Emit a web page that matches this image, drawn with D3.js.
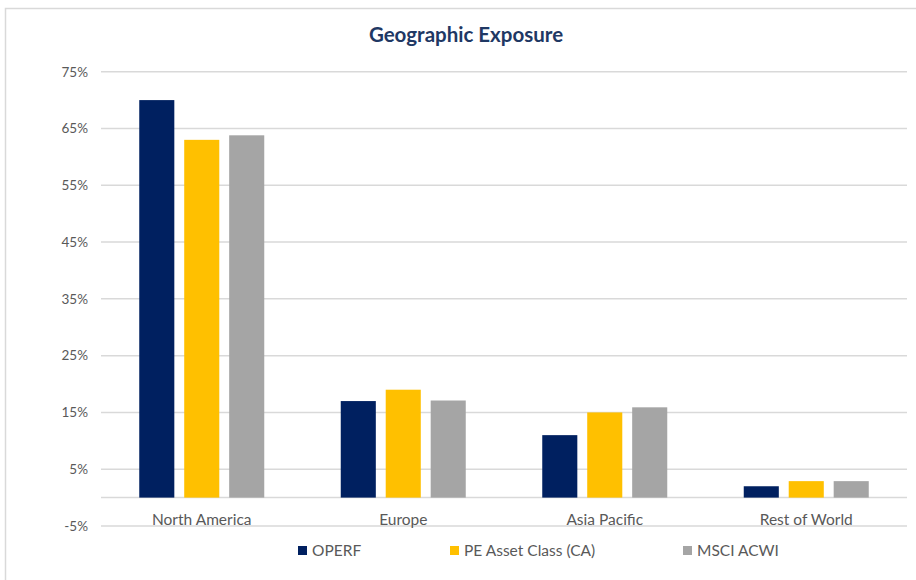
<!DOCTYPE html>
<html>
<head>
<meta charset="utf-8">
<script src="https://cdn.jsdelivr.net/npm/d3@7"></script>
<style>
  body { margin: 0; background: #fff; }
  text { font-family: Lato, "Open Sans", sans-serif; }
</style>
</head>
<body>
<div id="chart"></div>
<script>
var regions = ['North America', 'Europe', 'Asia Pacific', 'Rest of World'];
var seriesNames = ['OPERF', 'PE Asset Class (CA)', 'MSCI ACWI'];
var seriesColors = ['#002060', '#ffc000', '#a5a5a5'];
var operf = [70, 17, 11, 2];
var peAssetClass = [63, 19, 15, 2.9];
var msciAcwi = [63.8, 17.1, 15.9, 2.9];
var yTicks = [-5, 5, 15, 25, 35, 45, 55, 65, 75];

var width = 916, height = 580;
var margin = { left: 101, right: 9, top: 71.7, bottom: 54 };

var svg = d3.select('#chart').append('svg')
  .attr('width', width)
  .attr('height', height);

// chart border (top and left visible)
svg.append('rect')
  .attr('x', 5.5).attr('y', 8.5)
  .attr('width', width + 10).attr('height', height + 10)
  .attr('fill', 'none')
  .attr('stroke', '#d9d9d9')
  .attr('stroke-width', 1.5);

var x0 = d3.scaleBand()
  .domain(regions)
  .range([margin.left, width - margin.right]);

var x1 = d3.scaleBand()
  .domain(seriesNames)
  .range([0, 125])
  .paddingInner(0.22);

var y = d3.scaleLinear()
  .domain([-5, 75])
  .range([526, margin.top]);

// gridlines
svg.append('g').selectAll('line')
  .data(yTicks.concat([0]))
  .enter().append('line')
    .attr('x1', margin.left).attr('x2', width - margin.right)
    .attr('y1', function(d) { return y(d); })
    .attr('y2', function(d) { return y(d); })
    .attr('stroke', '#d9d9d9')
    .attr('stroke-width', 1.5);

// y axis labels
var yAxis = d3.axisLeft(y)
  .tickValues(yTicks)
  .tickSize(0)
  .tickPadding(0)
  .tickFormat(function(d) { return d + '%'; });

svg.append('g')
  .attr('transform', 'translate(88,0)')
  .call(yAxis)
  .call(function(g) {
    g.select('.domain').remove();
    g.selectAll('text')
      .attr('fill', '#595959')
      .style('font-size', '13.5px')
      .style('font-family', 'Lato, sans-serif');
  });

// bars
var seriesValues = [operf, peAssetClass, msciAcwi];
var groups = svg.append('g').selectAll('g')
  .data(regions)
  .enter().append('g')
    .attr('transform', function(d) { return 'translate(' + (x0(d) + x0.bandwidth() / 2 - 62.5) + ',0)'; });

groups.selectAll('rect')
  .data(function(d, i) {
    return seriesNames.map(function(s, j) { return { series: s, value: seriesValues[j][i], color: seriesColors[j] }; });
  })
  .enter().append('rect')
    .attr('x', function(d) { return x1(d.series); })
    .attr('width', x1.bandwidth())
    .attr('y', function(d) { return y(d.value); })
    .attr('height', function(d) { return y(0) - y(d.value); })
    .attr('fill', function(d) { return d.color; });

// category labels
var xAxis = d3.axisBottom(x0).tickSize(0).tickPadding(0);
svg.append('g')
  .attr('transform', 'translate(0,' + 514 + ')')
  .call(xAxis)
  .call(function(g) {
    g.select('.domain').remove();
    g.selectAll('text')
      .attr('fill', '#595959')
      .style('font-size', '15.5px')
      .style('font-family', 'Lato, sans-serif');
  });

// title
svg.append('text')
  .attr('x', 466)
  .attr('y', 42)
  .attr('text-anchor', 'middle')
  .attr('fill', '#1f3864')
  .style('font-size', '20.5px')
  .style('font-weight', 'bold')
  .text('Geographic Exposure');

// legend
var legendX = [298, 450, 683];
var legend = svg.append('g').selectAll('g')
  .data(seriesNames)
  .enter().append('g')
    .attr('transform', function(d, i) { return 'translate(' + legendX[i] + ',546)'; });

legend.append('rect')
  .attr('width', 9).attr('height', 9)
  .attr('fill', function(d, i) { return seriesColors[i]; });

legend.append('text')
  .attr('x', 14)
  .attr('y', 10)
  .attr('fill', '#595959')
  .style('font-size', '15.5px')
  .text(function(d) { return d; });
</script>
</body>
</html>
